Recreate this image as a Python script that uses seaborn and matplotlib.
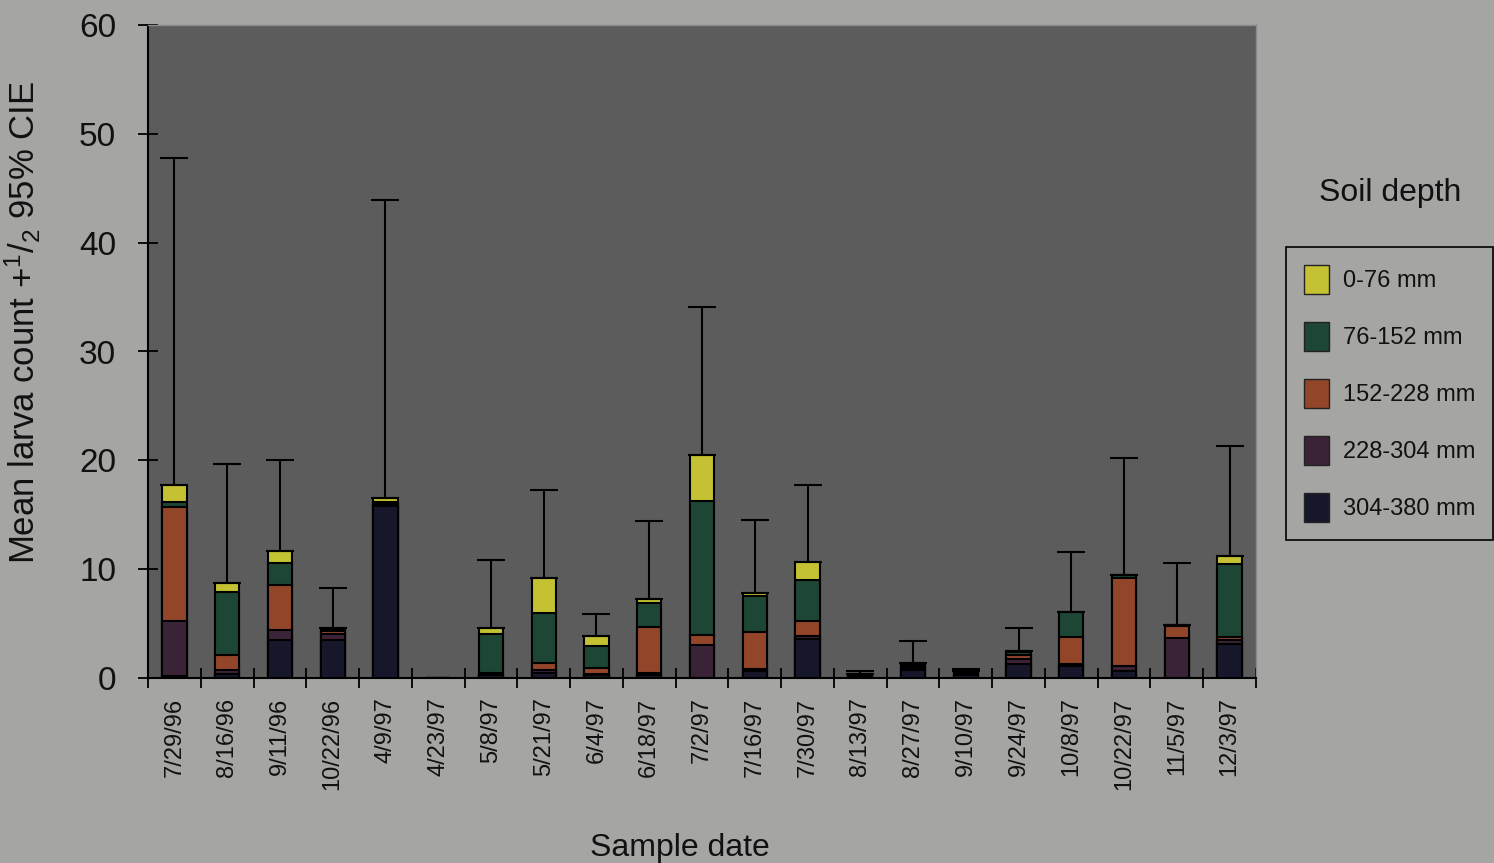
import numpy as np
import pandas as pd
import matplotlib
matplotlib.use("Agg")
import matplotlib.pyplot as plt
import seaborn as sns
from matplotlib.patches import Patch

dates = ["7/29/96", "8/16/96", "9/11/96", "10/22/96", "4/9/97", "4/23/97", "5/8/97",
         "5/21/97", "6/4/97", "6/18/97", "7/2/97", "7/16/97", "7/30/97", "8/13/97",
         "8/27/97", "9/10/97", "9/24/97", "10/8/97", "10/22/97", "11/5/97", "12/3/97"]

# layer values (mean larva count per depth)
d0_76    = [1.5, 0.8, 1.1, 0.1, 0.3, 0.0, 0.6, 3.2, 1.0, 0.4, 4.2, 0.3, 1.7, 0.05, 0.1, 0.05, 0.1, 0.0, 0.0, 0.0, 0.7]
d76_152  = [0.5, 5.8, 2.1, 0.2, 0.2, 0.0, 3.5, 4.6, 1.95, 2.2, 12.35, 3.35, 3.8, 0.05, 0.2, 0.1, 0.3, 2.3, 0.3, 0.1, 6.7]
d152_228 = [10.5, 1.4, 4.1, 0.3, 0.1, 0.0, 0.1, 0.7, 0.55, 4.2, 0.95, 3.4, 1.3, 0.1, 0.2, 0.1, 0.4, 2.5, 8.1, 1.1, 0.3]
d228_304 = [5.0, 0.3, 0.9, 0.5, 0.1, 0.0, 0.1, 0.2, 0.1, 0.2, 3.0, 0.2, 0.3, 0.1, 0.2, 0.1, 0.4, 0.2, 0.5, 3.7, 0.4]
d304_380 = [0.2, 0.4, 3.5, 3.5, 15.8, 0.0, 0.3, 0.5, 0.3, 0.3, 0.0, 0.6, 3.6, 0.1, 0.7, 0.25, 1.3, 1.1, 0.6, 0.0, 3.1]
ci_top   = [47.8, 19.7, 20.0, 8.3, 43.9, 0.0, 10.8, 17.3, 5.85, 14.4, 34.1, 14.5, 17.7, 0.6, 3.4, 0.85, 4.6, 11.55, 20.2, 10.6, 21.3]

labels = ["0-76 mm", "76-152 mm", "152-228 mm", "228-304 mm", "304-380 mm"]
colors = ["#c4c232", "#1e4634", "#93452a", "#3a2336", "#16172a"]
layers = [d0_76, d76_152, d152_228, d228_304, d304_380]

fig_bg = "#a5a5a3"
ax_bg = "#5c5c5c"

sns.set_theme(style="white")
plt.rcParams["font.family"] = ["Liberation Sans", "DejaVu Sans"]
plt.rcParams["mathtext.fontset"] = "custom"
plt.rcParams["mathtext.rm"] = "Liberation Sans"
plt.rcParams["mathtext.it"] = "Liberation Sans"

fig = plt.figure(figsize=(14.94, 8.63), dpi=100, facecolor=fig_bg)
ax = fig.add_axes([148/1494, 1-678/863, (1256-148)/1494, (678-25)/863])
ax.set_facecolor(ax_bg)

# stacked bars: draw cumulative totals from largest to smallest
arr = np.array(layers)
order_bottom_up = arr[::-1]
cum = np.cumsum(order_bottom_up, axis=0)  # cum[0]=304-380, cum[4]=total
for i in range(4, -1, -1):
    color = colors[4 - i]
    df = pd.DataFrame({"date": dates, "value": cum[i]})
    sns.barplot(data=df, x="date", y="value", color=color, width=0.46,
                edgecolor="black", linewidth=1.5, saturation=1, ax=ax, errorbar=None)

totals = cum[4]
x = np.arange(len(dates))
yerr_up = np.maximum(np.array(ci_top) - totals, 0)
mask = np.array(ci_top) > 0
ax.errorbar(x[mask], totals[mask], yerr=[np.zeros(mask.sum()), yerr_up[mask]],
            fmt="none", ecolor="black", elinewidth=1.5, capsize=10, capthick=1.5)

ax.set_xlim(-0.5, len(dates) - 0.5)
ax.set_ylim(0, 60)
ax.set_yticks([0, 10, 20, 30, 40, 50, 60])
ax.set_xlabel("")
ax.set_ylabel("Mean larva count +$\\mathregular{^1/_2}$ 95% CIE", fontsize=25, color="#111111")
ax.yaxis.set_label_coords((43 - 148) / 1108, (678 - 322) / 653)
ax.tick_params(axis="y", which="major", direction="inout", length=14, width=1.3,
               labelsize=24, colors="black", labelcolor="#111111", pad=16, left=True)
ax.set_xticks(x)
ax.set_xticklabels(dates, rotation=90, fontsize=17, color="#111111")
ax.tick_params(axis="x", which="major", length=0, pad=14)
ax.set_xticks(np.arange(-0.5, len(dates) + 0.5, 1), minor=True)
ax.tick_params(axis="x", which="minor", direction="inout", length=14, width=1.3,
               colors="black", bottom=True)
for side in ["left", "bottom"]:
    ax.spines[side].set_color("black")
    ax.spines[side].set_linewidth(1.5)
for side in ["top", "right"]:
    ax.spines[side].set_color("#8a8a8a")
    ax.spines[side].set_linewidth(1.0)

fig.text(680/1494, 1-848/863, "Sample date", fontsize=23, ha="center", va="center", color="#111111")
fig.text(1390/1494, 1-193/863, "Soil depth", fontsize=23, ha="center", va="center", color="#111111")

handles = [Patch(facecolor=c, edgecolor="#222222", label=l) for c, l in zip(colors, labels)]
leg = fig.legend(handles=handles, loc="upper left", bbox_to_anchor=(1286/1494, 1-247/863),
                 frameon=True, fontsize=17, handlelength=1.05, handleheight=1.5,
                 labelspacing=1.2, borderpad=0.75, handletextpad=0.6, borderaxespad=0)
frame = leg.get_frame()
frame.set_facecolor(fig_bg)
frame.set_edgecolor("black")
frame.set_linewidth(1.2)
frame.set_alpha(1)
frame.set_boxstyle("square", pad=0)
for t in leg.get_texts():
    t.set_color("#111111")

fig.savefig("out.png", dpi=100, facecolor=fig_bg)
